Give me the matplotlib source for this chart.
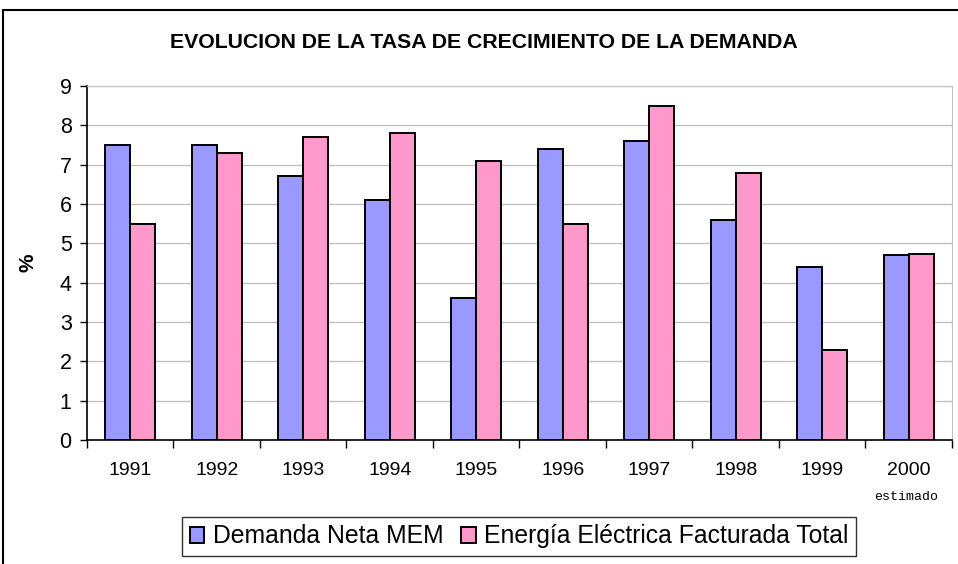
"""Evolucion de la tasa de crecimiento de la demanda"""
from matplotlib import pyplot as plt
from matplotlib.patches import Rectangle
import numpy as np

plt.rcParams['font.family'] = ['Liberation Sans', 'DejaVu Sans']

anios = ['1991', '1992', '1993', '1994', '1995', '1996', '1997', '1998', '1999', '2000']
demanda_mem = [7.5, 7.5, 6.7, 6.1, 3.6, 7.4, 7.6, 5.6, 4.4, 4.7]
energia_facturada = [5.5, 7.3, 7.7, 7.8, 7.1, 5.5, 8.5, 6.8, 2.3, 4.73]

fig = plt.figure(figsize=(9.58, 5.64), dpi=100)
ax = fig.add_axes([0.0908, 0.2199, 0.9029, 0.6276])

x = np.arange(len(anios))
ancho = 0.29
b1 = ax.bar(x - ancho / 2, demanda_mem, ancho, color='#9999FF',
            edgecolor='black', linewidth=1.4, label='Demanda Neta MEM', zorder=3)
b2 = ax.bar(x + ancho / 2, energia_facturada, ancho, color='#FF99CC',
            edgecolor='black', linewidth=1.4,
            label='Energía Eléctrica Facturada Total', zorder=3)

ax.set_xlim(-0.5, 9.5)
ax.set_ylim(0, 9)
ax.set_yticks(range(10))
ax.yaxis.grid(True, color='#c0c0c0', linewidth=1, zorder=0)

# etiquetas en el centro, marcas entre categorias
ax.set_xticks(x)
ax.set_xticklabels(anios, fontsize=14)
ax.set_xticks(np.arange(-0.5, 10, 1), minor=True)
ax.tick_params(axis='x', which='major', length=0, pad=16)
ax.tick_params(axis='x', which='minor', length=6, width=1, direction='out')
ax.tick_params(axis='y', length=5, width=1, direction='out', labelsize=15.5, pad=6)

for lado in ['top', 'right']:
    ax.spines[lado].set_color('#c0c0c0')
for lado in ['left', 'bottom']:
    ax.spines[lado].set_color('black')
    ax.spines[lado].set_linewidth(1.2)

ax.set_ylabel('%', fontsize=15, fontweight='bold', labelpad=16)

fig.text(0.505, 0.925, 'EVOLUCION DE LA TASA DE CRECIMIENTO DE LA DEMANDA',
         ha='center', va='center', fontsize=15.3, fontweight='bold')
fig.text(0.946, 0.118, 'estimado', ha='center', va='center', fontsize=9.5,
         family=['Liberation Mono', 'DejaVu Sans Mono'])

leg = fig.legend(handles=[b1, b2], loc='center', bbox_to_anchor=(0.542, 0.0488),
                 ncol=2, fontsize=17.8, frameon=True, fancybox=False,
                 handlelength=0.6, handleheight=0.6, handletextpad=0.35,
                 columnspacing=0.7, borderpad=0.3, edgecolor='black')
leg.get_frame().set_linewidth(1)

# marco del grafico
fig.patches.append(Rectangle((0.003, -0.1), 1.2, 1.082, transform=fig.transFigure,
                             fill=False, edgecolor='black', linewidth=1.5))

plt.savefig('out.png', dpi=100)
